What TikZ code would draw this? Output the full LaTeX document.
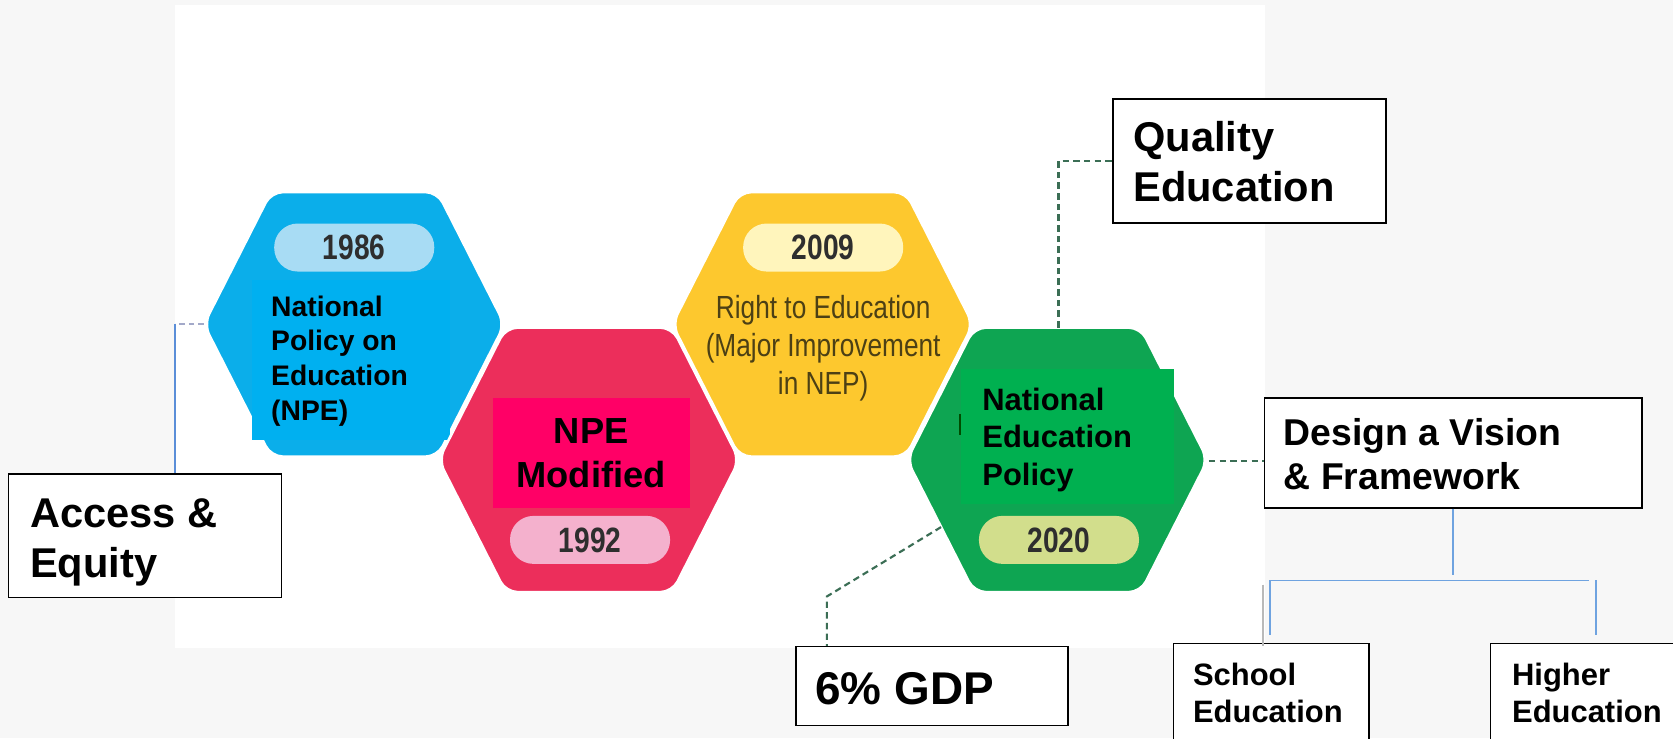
\documentclass[tikz,border=0pt]{standalone}
\usepackage{fontspec}
\setmainfont{Liberation Sans}
\newfontfamily\narrowfont[FakeStretch=0.82]{Liberation Sans}
\newfontfamily\yearfont[FakeStretch=0.8]{Liberation Sans}
\definecolor{bgGray}{HTML}{F7F7F7}
\definecolor{hexBlue}{HTML}{0BAEEA}
\definecolor{rectBlue}{HTML}{00B0F0}
\definecolor{pillBlue}{HTML}{A8DCF4}
\definecolor{hexPink}{HTML}{EC2E5B}
\definecolor{rectPink}{HTML}{FF0066}
\definecolor{pillPink}{HTML}{F4B1CD}
\definecolor{hexYellow}{HTML}{FDC82E}
\definecolor{pillYellow}{HTML}{FFF5BC}
\definecolor{hexGreen}{HTML}{0EA552}
\definecolor{rectGreen}{HTML}{00B050}
\definecolor{pillGreen}{HTML}{D2DE8C}
\definecolor{yearText}{HTML}{2E2E2E}
\definecolor{yellowText}{HTML}{4C4015}
\definecolor{connGreen}{HTML}{3B6E55}
\definecolor{blueDash}{HTML}{A3A9C9}
\definecolor{blueLine}{HTML}{5B8ED8}
\definecolor{treeBlue}{HTML}{6FA3E0}
\newcommand{\hexat}[3]{\draw[hexagon, fill=#3] (#1-141,#2) -- ++(63,-124) -- ++(156,0) -- ++(63,124) -- ++(-63,124) -- ++(-156,0) -- cycle;}
\begin{document}
\begin{tikzpicture}[x=1pt,y=-1pt,
  hexagon/.style={draw=white, line width=2.5pt, rounded corners=11pt},
  pill/.style={rounded corners=22pt, minimum width=150pt, minimum height=45pt, inner sep=0pt, text=yearText, font=\yearfont\bfseries\fontsize{33}{36}\selectfont},
  box/.style={draw=black, fill=white, line width=1.5pt, inner sep=0pt},
  txt/.style={anchor=north west, inner sep=0pt, align=left},
  greendash/.style={draw=connGreen, line width=2pt, dash pattern=on 6pt off 4pt},
  bluedash/.style={draw=blueDash, line width=2pt, dash pattern=on 5pt off 4pt},
  blueline/.style={draw=blueLine, line width=1.2pt},
  treeline/.style={draw=treeBlue, line width=1.5pt}
]
\useasboundingbox (0,0) rectangle (1568,692);
\clip (0,0) rectangle (1568,692);
\fill[bgGray] (0,0) rectangle (1568,692);
\fill[white] (164,5) rectangle (1186,607);

% hexagons
\hexat{332}{304}{hexBlue}
\fill[rectBlue] (236,262) rectangle (422,412);
\node[pill, fill=pillBlue] (p1986) at (332,232) {1986};
\node[txt, font=\bfseries\fontsize{26.5}{32.5}\selectfont] (npeT) at (254,274.8) {\rule{0pt}{0.8em}National\\Policy on\\Education\\(NPE)};

\hexat{771}{304}{hexYellow}
\node[pill, fill=pillYellow] (p2009) at (771.5,232) {2009};
\node[anchor=north, inner sep=0pt, align=center, text=yellowText, font=\narrowfont\fontsize{30}{36}\selectfont] (rteT) at (771.5,274) {\rule{0pt}{0.8em}Right to Education\\(Major Improvement\\in NEP)};

\hexat{552}{431}{hexPink}
\fill[rectPink] (462,373) rectangle (647,476);
\node[pill, fill=pillPink] (p1992) at (553,506) {1992};
\node[anchor=north, inner sep=0pt, align=center, font=\bfseries\fontsize{34}{42}\selectfont] (modT) at (554,387.8) {\rule{0pt}{0.8em}NPE\\Modified};

\hexat{991}{431}{hexGreen}
\fill[rectGreen] (901,346) rectangle (1100,472);
\draw[line width=1.5pt, black!70!green] (900,388) -- (900,408);
\node[pill, fill=pillGreen] (p2020) at (992.5,506) {2020};
\node[txt, font=\bfseries\fontsize{29}{35}\selectfont] (nepT) at (920.5,361.3) {\rule{0pt}{0.8em}National\\Education\\Policy};

% connection points on hexagons
\coordinate (npeL) at (191,304);
\coordinate (nepTop) at (992,307);
\coordinate (nepRight) at (1133,432);
\coordinate (nepLL) at (882,494);

% boxes
\node[box, minimum width=256pt, minimum height=116pt] (access) at (136,502) {};
\node[txt, font=\bfseries\fontsize{39}{47}\selectfont] at (28,462.8) {\rule{0pt}{0.8em}Access \&\\Equity};

\node[box, minimum width=256pt, minimum height=116pt] (quality) at (1171,151) {};
\node[txt, font=\bfseries\fontsize{39}{47.5}\selectfont] at (1062,110.3) {\rule{0pt}{0.8em}Quality\\Education};

\node[box, minimum width=354pt, minimum height=103pt] (design) at (1362,424.5) {};
\node[txt, font=\bfseries\fontsize{35}{42}\selectfont] at (1203,389) {\rule{0pt}{0.8em}Design a Vision\\\& Framework};

\node[box, minimum width=255pt, minimum height=74pt] (gdp) at (873.5,643) {};
\node[txt, font=\bfseries\fontsize{43}{50}\selectfont] at (764,625.6) {\rule{0pt}{0.8em}6\% GDP};

\node[box, minimum width=183pt, minimum height=114pt] (school) at (1191.5,660) {};
\node[txt, font=\bfseries\fontsize{29}{35}\selectfont] at (1118,618.8) {\rule{0pt}{0.8em}School\\Education};

\node[box, minimum width=183pt, minimum height=114pt] (higher) at (1488.5,660) {};
\node[txt, font=\bfseries\fontsize{29}{35}\selectfont] at (1417,618.8) {\rule{0pt}{0.8em}Higher\\Education};

% connectors
\draw[bluedash] (npeL) -- (164,304) coordinate (accTurn);
\draw[blueline] (accTurn) -- (accTurn |- access.north);
\draw[greendash] (nepTop) |- (quality.west);
\draw[greendash] (nepRight) -- (nepRight -| design.west);
\draw[greendash] (nepLL) -- (775,559) coordinate (gdpTurn) -- (gdpTurn |- gdp.north);

\coordinate (tL) at (1190,544);
\coordinate (tR) at (1496,544);
\draw[treeline] (design.south) -- ++(0,62);
\draw[treeline] (tL) -- (1489,544);
\draw[treeline, shorten >=7pt] (tL) -- (tL |- school.north);
\draw[treeline, shorten >=7pt] (tR) -- (tR |- higher.north);
\draw[gray!55, line width=2pt] (1184,548) -- (1184,605);
\end{tikzpicture}
\end{document}
